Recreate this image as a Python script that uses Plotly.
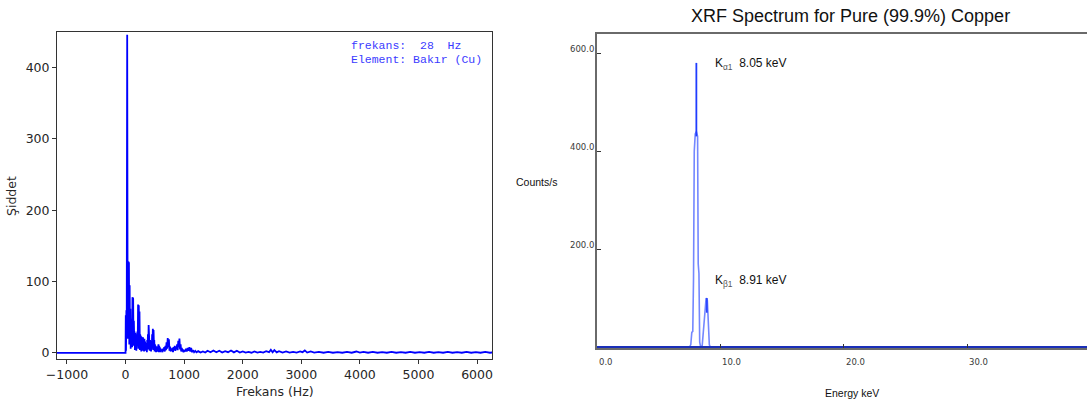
import plotly.graph_objects as go

W, H = 1087, 403

# ---------------- Left panel data: FFT magnitude spectrum ----------------
freq_hz = [-1200, -5, 0, 4, 8, 14, 20, 28, 34, 40, 46, 52, 58, 64, 70, 76, 82, 88, 94, 100,
           106, 112, 118, 124, 130, 136, 142, 148, 154, 160, 166, 172, 178, 184, 190, 196,
           202, 208, 214, 220, 226, 232, 238, 244, 250, 256, 262, 268, 274, 280, 286, 292,
           298, 304, 310, 316, 322, 328, 334, 340, 346, 352, 358, 364, 370, 376, 382, 388,
           394, 400, 406, 412, 418, 424, 430, 436, 442, 448, 454, 460, 466, 472, 478, 484,
           490, 496, 502, 508, 514, 520, 526, 532, 538, 544, 550, 556, 562, 568, 574, 580,
           586, 592, 600, 610, 620, 630, 640, 650, 660, 670, 680, 690, 700, 710, 720, 730,
           740, 750, 760, 770, 780, 790, 800, 810, 820, 830, 840, 850, 860, 870, 880, 890,
           900, 910, 920, 930, 940, 950, 960, 970, 980, 990, 1000, 1015, 1030, 1045, 1060,
           1075, 1090, 1105, 1120, 1135, 1150, 1170, 1190, 1210, 1240, 1280, 1320, 1360,
           1400, 1450, 1500, 1550, 1600, 1650, 1700, 1750, 1800, 1850, 1900, 1950, 2000,
           2050, 2100, 2150, 2200, 2250, 2300, 2350, 2400, 2450, 2480, 2510, 2540, 2580,
           2620, 2680, 2740, 2800, 2860, 2920, 2980, 3020, 3060, 3100, 3160, 3220, 3300,
           3380, 3460, 3540, 3620, 3700, 3780, 3860, 3940, 4000, 4060, 4140, 4220, 4300,
           4380, 4460, 4540, 4620, 4700, 4780, 4860, 4940, 5020, 5100, 5180, 5260, 5340,
           5420, 5500, 5580, 5660, 5740, 5820, 5900, 5980, 6060, 6140, 6220, 6300]
intensity = [0, 0, 0, 53, 3, 60, 30, 446, 120, 20, 128, 35, 126, 12, 95, 20, 62, 6, 48, 22,
             40, 8, 78, 30, 76, 10, 45, 18, 30, 4, 28, 12, 26, 3, 22, 10,
             30, 15, 68, 6, 67, 20, 58, 4, 26, 12, 24, 2, 22, 9, 20, 3,
             22, 10, 18, 2, 20, 8, 16, 3, 14, 6, 12, 1, 18, 8, 26, 5,
             39, 12, 36, 3, 18, 8, 16, 2, 14, 6, 26, 10, 34, 4, 32, 12,
             18, 2, 12, 5, 10, 1, 8, 4, 9, 2, 11, 5, 12, 1, 10, 4,
             8, 1, 6, 3, 5, 1, 6, 3, 8, 2, 10, 4, 15, 6, 21, 8,
             19, 3, 9, 2, 6, 3, 7, 1, 8, 4, 10, 3, 9, 5, 12, 4,
             17, 8, 20, 5, 12, 2, 7, 2, 5, 1, 4, 2, 6, 2, 7,
             3, 8, 2, 7, 1, 4, 1, 3, 1, 2.5, 0.5, 2, 0.5,
             3, 1, 3.5, 1, 3, 0.5, 2.5, 1, 3.5, 0.8, 3, 0.5, 2,
             0.5, 1.5, 0.3, 2, 0.5, 1.5, 0.5, 2.5, 1, 4.5, 1, 4, 0.8,
             2.5, 0.5, 2, 0.5, 1.5, 0.5, 2, 1, 3.5, 0.5, 2, 0.4, 1.5,
             0.3, 1.5, 0.3, 1.2, 0.3, 1.5, 0.3, 2, 0.5, 1.5, 0.3, 1.5, 0.3,
             1.2, 0.3, 1.5, 0.3, 1.2, 0.3, 1.5, 0.3, 1.2, 0.3, 1.5, 0.3, 1.2,
             0.3, 1.5, 0.3, 1.2, 0.3, 1.5, 0.3, 1.2, 0.3, 1.5, 0.3, 1]
left_xticks = [-1000, 0, 1000, 2000, 3000, 4000, 5000, 6000]
left_yticks = [0, 100, 200, 300, 400]
info_lines = ["frekans:\u00a0\u00a028\u00a0\u00a0Hz", "Element:\u00a0Bakır\u00a0(Cu)"]

# ---------------- Right panel data: XRF spectrum ----------------
energy_kev = [0, 7.50, 7.60, 7.68, 7.76, 7.82, 7.88, 7.96, 8.05, 8.15, 8.20, 8.26, 8.32,
              8.40, 8.52, 8.62, 8.72, 8.84, 8.94, 9.02, 9.10, 9.17, 39.7]
counts = [0, 0, 5, 30, 32, 140, 400, 435, 440, 430, 170, 150, 10,
          0, 2, 30, 75, 100, 95, 40, 5, 0, 0]
ka_apex_e = [8.05, 8.05]
ka_apex_c = [430, 580]
kb_apex_e = [8.90, 8.90]
kb_apex_c = [70, 100]
right_xticks = [0, 10, 20, 30]
right_yticks = [200, 400, 600]

fig = go.Figure()
fig.add_trace(go.Scatter(x=freq_hz, y=intensity, mode="lines",
                         line=dict(color="#0000ff", width=1.8),
                         xaxis="x", yaxis="y", hoverinfo="skip"))
fig.add_trace(go.Scatter(x=energy_kev, y=counts, mode="lines",
                         line=dict(color="#7387ff", width=1.6),
                         xaxis="x2", yaxis="y2", hoverinfo="skip"))
fig.add_trace(go.Scatter(x=ka_apex_e, y=ka_apex_c, mode="lines",
                         line=dict(color="#1f3cff", width=1.8),
                         xaxis="x2", yaxis="y2", hoverinfo="skip"))
fig.add_trace(go.Scatter(x=kb_apex_e, y=kb_apex_c, mode="lines",
                         line=dict(color="#2b45ff", width=1.8),
                         xaxis="x2", yaxis="y2", hoverinfo="skip"))
fig.add_trace(go.Scatter(x=[energy_kev[0], energy_kev[-1]], y=[0, 0], mode="lines",
                         line=dict(color="#1a2fb8", width=2),
                         xaxis="x2", yaxis="y2", hoverinfo="skip"))

tickfont_l = dict(family="DejaVu Sans", size=12.5, color="#262626")

fig.update_layout(
    width=W, height=H, margin=dict(l=0, r=0, t=0, b=0, autoexpand=False),
    paper_bgcolor="white", plot_bgcolor="white", showlegend=False,
    xaxis=dict(domain=[57 / W, 492 / W], range=[-1170, 6255], tickvals=left_xticks,
               ticks="outside", ticklen=4, tickcolor="#333", showline=True, mirror=True,
               linecolor="#333", linewidth=1, showgrid=False, zeroline=False,
               tickfont=tickfont_l, anchor="y", automargin=False),
    yaxis=dict(domain=[1 - 359 / H, 1 - 32 / H], range=[-8.5, 450], tickvals=left_yticks,
               ticks="outside", ticklen=4, tickcolor="#333", showline=True, mirror=True,
               linecolor="#333", linewidth=1, showgrid=False, zeroline=False,
               tickfont=tickfont_l, anchor="x", automargin=False),
    xaxis2=dict(domain=[597 / W, 1.0], range=[0, 39.7], tickvals=right_xticks,
                ticks="inside", ticklen=4, tickcolor="#333", showline=True, mirror=True,
                linecolor="#6a6a6a", linewidth=1.5, showgrid=False, zeroline=False,
                showticklabels=False, anchor="y2", automargin=False),
    yaxis2=dict(domain=[1 - 348 / H, 1 - 34 / H], range=[-2, 639], tickvals=right_yticks,
                ticks="inside", ticklen=4, tickcolor="#333", showline=True, mirror=False,
                linecolor="#6a6a6a", linewidth=1.5, showgrid=False, zeroline=False,
                showticklabels=False, anchor="x2", automargin=False),
)


def txt(text, px, py, size, family="Liberation Sans", color="#111", xanchor="center",
        angle=0):
    return dict(text=text, x=px / W, y=1 - py / H, xref="paper", yref="paper",
                xanchor=xanchor, yanchor="middle", showarrow=False, textangle=angle,
                font=dict(family=family, size=size, color=color))


ann = []
ann.append(txt("Frekans (Hz)", 274.5, 391, 12.5, "DejaVu Sans", "#262626"))
ann.append(txt("Şiddet", 12, 196, 12.5, "DejaVu Sans", "#262626", angle=-90))
for i, line in enumerate(info_lines):
    ann.append(txt(line, 349, 45 + 14.5 * i, 11.5, "Liberation Mono", "#3b3bff", "left"))

ann.append(txt("XRF Spectrum for Pure (99.9%) Copper", 850, 16, 18))
ann.append(txt("Counts/s", 536, 182, 10.5))
ann.append(txt("Energy keV", 852, 393, 10.5))
ann.append(txt("K<sub><span style='color:#555'>α1</span></sub>\u00a0\u00a08.05 keV",
               713, 64, 12, xanchor="left"))
ann.append(txt("K<sub><span style='color:#555'>β1</span></sub>\u00a0\u00a08.91 keV",
               713, 281, 12, xanchor="left"))
for v in right_xticks:
    ann.append(dict(text=f"{v:.1f}", x=v, xref="x2", y=1 - 362 / H, yref="paper",
                    xanchor="left", yanchor="middle", showarrow=False,
                    font=dict(family="DejaVu Sans", size=8.5, color="#3a3a3a")))
for v in right_yticks:
    ann.append(dict(text=f"{v:.1f}", x=596 / W, xref="paper", y=v, yref="y2",
                    xanchor="right", yanchor="bottom", yshift=-3, showarrow=False,
                    font=dict(family="DejaVu Sans", size=8.5, color="#3a3a3a")))
fig.update_layout(annotations=ann)

fig.write_html("out.html", config={"displayModeBar": False},
               post_script="document.body.style.margin='0px';"
                           "document.body.style.overflow='hidden';")
